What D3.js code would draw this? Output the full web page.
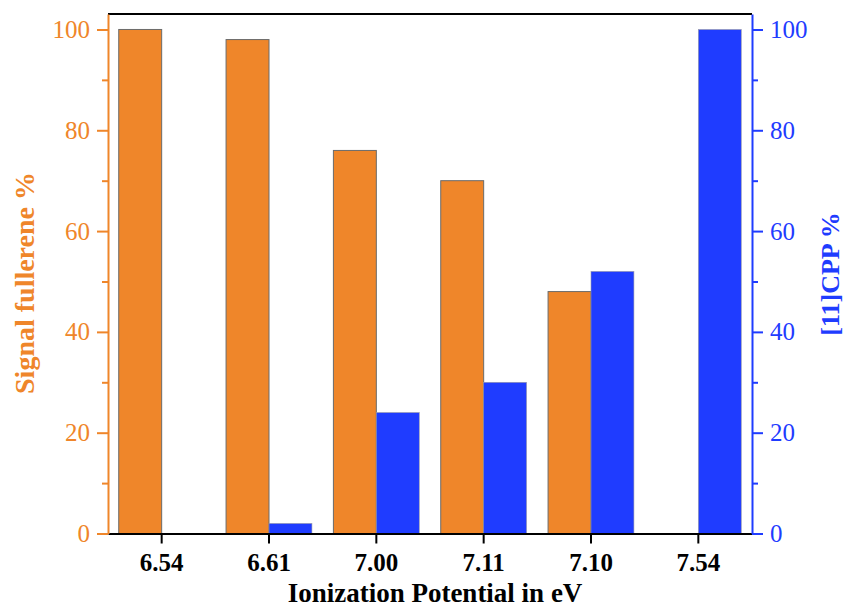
<!DOCTYPE html>
<html>
<head>
<meta charset="utf-8">
<script src="https://cdn.jsdelivr.net/npm/d3@7"></script>
<style>
  html, body { margin: 0; padding: 0; background: #fff; }
  svg { display: block; }
  text { font-family: "Liberation Serif", "Times New Roman", serif; }
</style>
</head>
<body>
<svg id="chart" width="846" height="609"></svg>
<script>
// Ionization potentials (category labels, in plotted order)
const categories = ["6.54", "6.61", "7.00", "7.11", "7.10", "7.54"];
// Fullerene signal share (%) — left axis
const fullereneSignal = [100, 98, 76, 70, 48, 0];
// [11]CPP share (%) — right axis
const cppSignal = [0, 2, 24, 30, 52, 100];
const leftTicks = [0, 20, 40, 60, 80, 100];
const rightTicks = [0, 20, 40, 60, 80, 100];
const minorTicks = [10, 30, 50, 70, 90];

const orange = "#EF862A";
const blue = "#1F3CFF";

const margin = { top: 14, right: 94, bottom: 75.5, left: 108 };
const W = 846, H = 609;
const iw = W - margin.left - margin.right;
const ih = H - margin.top - margin.bottom;

const svg = d3.select("#chart");
const g = svg.append("g").attr("transform", `translate(${margin.left},${margin.top})`);

const x = d3.scaleBand().domain(categories).range([0, iw]).padding(0);
const yL = d3.scaleLinear().domain([0, 103.07]).range([ih, 0]);
const yR = d3.scaleLinear().domain([0, 103.07]).range([ih, 0]);
const barW = x.bandwidth() * 0.4;

// Fullerene bars (left of each tick)
g.selectAll("rect.ful").data(categories).join("rect")
  .attr("class", "ful")
  .attr("x", d => x(d) + x.bandwidth() / 2 - barW)
  .attr("y", (d, i) => yL(fullereneSignal[i]))
  .attr("width", barW)
  .attr("height", (d, i) => ih - yL(fullereneSignal[i]))
  .attr("fill", orange)
  .attr("stroke", "#6b6b6b")
  .attr("stroke-width", 1);

// CPP bars (right of each tick)
g.selectAll("rect.cpp").data(categories).join("rect")
  .attr("class", "cpp")
  .attr("x", d => x(d) + x.bandwidth() / 2)
  .attr("y", (d, i) => yR(cppSignal[i]))
  .attr("width", barW)
  .attr("height", (d, i) => ih - yR(cppSignal[i]))
  .attr("fill", blue)
  .attr("stroke", "#9a9aa8")
  .attr("stroke-width", 0.6);

// Top frame
g.append("line").attr("x1", 0).attr("x2", iw).attr("y1", 0).attr("y2", 0)
  .attr("stroke", "#000").attr("stroke-width", 2);

// Bottom axis
const xAxis = g.append("g").attr("transform", `translate(0,${ih})`)
  .call(d3.axisBottom(x).tickSize(10).tickPadding(10).tickSizeOuter(0));
xAxis.select(".domain").attr("stroke", "#000").attr("stroke-width", 2);
xAxis.selectAll(".tick line").attr("stroke", "#000").attr("stroke-width", 2);
xAxis.selectAll(".tick text").attr("fill", "#000")
  .style("font-size", "25px").style("font-weight", "bold")
  .attr("dy", "0.71em");

function styleY(sel, color) {
  sel.select(".domain").attr("stroke", color).attr("stroke-width", 2);
  sel.selectAll(".tick line").attr("stroke", color).attr("stroke-width", 2);
  sel.selectAll(".tick text").attr("fill", color).style("font-size", "25px");
}

// Left axis (major + minor)
const yLAxis = g.append("g")
  .call(d3.axisLeft(yL).tickValues(leftTicks).tickSize(11).tickPadding(7).tickSizeOuter(0));
styleY(yLAxis, orange);
g.append("g")
  .call(d3.axisLeft(yL).tickValues(minorTicks).tickSize(6).tickFormat("").tickSizeOuter(0))
  .call(s => { s.select(".domain").remove(); s.selectAll("line").attr("stroke", orange).attr("stroke-width", 2); });

// Right axis (major + minor)
const yRAxis = g.append("g").attr("transform", `translate(${iw},0)`)
  .call(d3.axisRight(yR).tickValues(rightTicks).tickSize(11).tickPadding(7).tickSizeOuter(0));
styleY(yRAxis, blue);
g.append("g").attr("transform", `translate(${iw},0)`)
  .call(d3.axisRight(yR).tickValues(minorTicks).tickSize(6).tickFormat("").tickSizeOuter(0))
  .call(s => { s.select(".domain").remove(); s.selectAll("line").attr("stroke", blue).attr("stroke-width", 2); });

// Axis titles
svg.append("text")
  .attr("transform", `translate(34,283) rotate(-90)`)
  .attr("text-anchor", "middle")
  .attr("fill", orange).style("font-size", "28px").style("font-weight", "bold")
  .text("Signal fullerene %");

svg.append("text")
  .attr("transform", `translate(839,274) rotate(-90)`)
  .attr("text-anchor", "middle")
  .attr("fill", blue).style("font-size", "26px").style("font-weight", "bold")
  .text("[11]CPP %");

svg.append("text")
  .attr("x", 435)
  .attr("y", 602)
  .attr("text-anchor", "middle")
  .attr("fill", "#000").style("font-size", "27px").style("font-weight", "bold")
  .text("Ionization Potential in eV");
</script>
</body>
</html>
